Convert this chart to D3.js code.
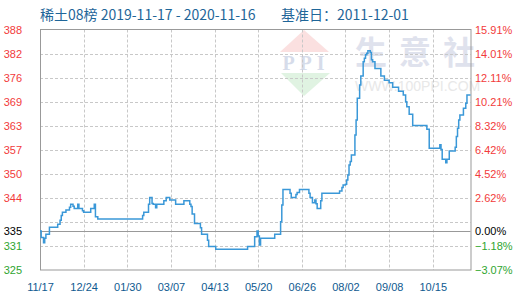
<!DOCTYPE html>
<meta charset="utf-8">
<script src="https://d3js.org/d3.v7.min.js"></script>
<style>
    body { margin: 0; background: #fff; }
    svg { display: block; }
</style>
<div id="chart"></div>
<script>
    // title texts
    var titleText = "稀土08榜 2019-11-17 - 2020-11-16";
    var baseText = "基准日：2011-12-01";
    var baseValue = 335;

    // x axis
    var startDate = "2019-11-17", endDate = "2020-11-16";
    var xTickDates = ["2019-11-17", "2019-12-24", "2020-01-30", "2020-03-07", "2020-04-13",
        "2020-05-20", "2020-06-26", "2020-08-02", "2020-09-08", "2020-10-15"];
    var xTickLabels = ["11/17", "12/24", "01/30", "03/07", "04/13", "05/20", "06/26", "08/02", "09/08", "10/15"];

    // y axis: percent vs base (right) and index value (left)
    var pctTicks = [-3.07, -1.18, 0.72, 2.62, 4.52, 6.42, 8.32, 10.21, 12.11, 14.01, 15.91];
    var valueLabels = [325, 331, 337, 344, 350, 357, 363, 369, 376, 382, 388];

    // series: day the index changed, and the value from that day on
    var dates = ["2019-11-17", "2019-11-18", "2019-11-20", "2019-11-21", "2019-11-22", "2019-11-25", "2019-12-02", "2019-12-04",
        "2019-12-05", "2019-12-06", "2019-12-09", "2019-12-12", "2019-12-13", "2019-12-15", "2019-12-16", "2019-12-19",
        "2019-12-20", "2019-12-23", "2019-12-24", "2019-12-30", "2020-01-02", "2020-01-03", "2020-01-05", "2020-02-12",
        "2020-02-13", "2020-02-17", "2020-02-18", "2020-02-20", "2020-02-21", "2020-02-23", "2020-02-24", "2020-03-01",
        "2020-03-03", "2020-03-06", "2020-03-11", "2020-03-18", "2020-03-23", "2020-03-24", "2020-03-25", "2020-03-27",
        "2020-04-01", "2020-04-02", "2020-04-07", "2020-04-08", "2020-04-14", "2020-05-11", "2020-05-17", "2020-05-19",
        "2020-05-20", "2020-05-21", "2020-05-22", "2020-06-03", "2020-06-08", "2020-06-09", "2020-06-10", "2020-06-16",
        "2020-06-17", "2020-06-21", "2020-06-22", "2020-06-24", "2020-07-02", "2020-07-03", "2020-07-05", "2020-07-07",
        "2020-07-08", "2020-07-09", "2020-07-12", "2020-07-13", "2020-07-28", "2020-07-30", "2020-07-31", "2020-08-02",
        "2020-08-03", "2020-08-04", "2020-08-05", "2020-08-06", "2020-08-07", "2020-08-10", "2020-08-11", "2020-08-12",
        "2020-08-14", "2020-08-15", "2020-08-17", "2020-08-18", "2020-08-19", "2020-08-20", "2020-08-21", "2020-08-23",
        "2020-08-24", "2020-08-25", "2020-08-27", "2020-09-01", "2020-09-04", "2020-09-08", "2020-09-11", "2020-09-16",
        "2020-09-20", "2020-09-22", "2020-09-23", "2020-09-25", "2020-09-28", "2020-10-10", "2020-10-12", "2020-10-21",
        "2020-10-22", "2020-10-23", "2020-10-26", "2020-10-27", "2020-10-29", "2020-11-03", "2020-11-04", "2020-11-05",
        "2020-11-06", "2020-11-07", "2020-11-10", "2020-11-12", "2020-11-13", "2020-11-16"];
    var values = [335.0, 333.3, 331.9, 333.1, 334.2, 336.0, 336.8, 337.9,
        339.1, 340.0, 340.6, 341.3, 342.1, 341.6, 341.0, 342.1,
        341.0, 340.4, 340.0, 341.0, 342.1, 338.8, 338.2, 339.1,
        340.0, 342.1, 343.9, 342.3, 342.1, 341.2, 342.1, 343.0,
        343.9, 343.2, 342.1, 343.0, 342.1, 341.5, 339.5, 337.0,
        335.9, 334.2, 332.6, 330.9, 330.2, 330.9, 333.5, 335.0,
        333.7, 331.3, 333.1, 334.2, 337.5, 341.9, 346.0, 345.0,
        343.9, 344.7, 345.2, 346.0, 345.0, 343.9, 342.5, 343.2,
        342.2, 341.0, 343.0, 345.0, 345.6, 346.5, 347.2, 347.4,
        348.5, 349.8, 352.5, 353.4, 355.1, 360.4, 364.4, 370.1,
        373.6, 376.0, 379.8, 380.7, 381.6, 382.0, 382.7, 382.2,
        380.3, 379.8, 378.0, 376.0, 374.9, 374.2, 373.0, 372.0,
        371.0, 369.2, 367.9, 365.9, 362.9, 361.9, 356.9, 357.8,
        356.6, 354.0, 353.1, 354.0, 356.2, 357.2, 360.0, 362.2,
        364.4, 365.7, 367.5, 368.8, 371.0, 371.0];

    // ---------------------------//
    //       SIZES AND SCALES     //
    // ---------------------------//
    var width = 520, height = 300;
    var plot = { left: 40, right: 470.5, top: 29.5, bottom: 270 };

    var svg = d3.select("#chart")
        .append("svg")
        .attr("width", width)
        .attr("height", height);

    var parse = d3.timeParse("%Y-%m-%d");

    var x = d3.scaleTime()
        .domain([parse(startDate), parse(endDate)])
        .range([plot.left, plot.right]);

    var yPct = d3.scaleLinear()
        .domain([pctTicks[0], pctTicks[pctTicks.length - 1]])
        .range([plot.bottom, plot.top]);

    var y = d3.scaleLinear()
        .domain(yPct.domain().map(function (p) { return baseValue * (1 + p / 100); }))
        .range([plot.bottom, plot.top]);

    // ---------------------------//
    //       WATERMARK            //
    // ---------------------------//
    var wm = svg.append("g");
    wm.append("path")
        .attr("d", "M280,52L304,30L329,52Z")
        .attr("fill", "#fbe0e0");
    wm.append("path")
        .attr("d", "M281,73L330,73L304,96Z")
        .attr("fill", "#e0f3e2");
    wm.append("text")
        .attr("x", 306).attr("y", 70)
        .attr("text-anchor", "middle")
        .style("font-family", "'Liberation Serif', serif")
        .style("font-weight", "bold")
        .style("font-size", "20px")
        .style("letter-spacing", "5px")
        .attr("fill", "#d6dcea")
        .text("PPI");
    // one glyph per text so the wide spacing does not run into the right labels
    wm.selectAll("wmchar")
        .data(["生", "意", "社"])
        .enter()
        .append("text")
        .attr("x", function (d, i) { return 371 + i * 44; })
        .attr("y", 64)
        .attr("text-anchor", "middle")
        .style("font-family", "'Noto Sans CJK SC', sans-serif")
        .style("font-weight", "bold")
        .style("font-size", "32px")
        .attr("fill", "#dfe2ed")
        .text(function (d) { return d; });
    wm.append("text")
        .attr("x", 355).attr("y", 91)
        .style("font-family", "'Liberation Sans', Arial, sans-serif")
        .style("font-size", "14px")
        .attr("fill", "#e8e8e8")
        .text("WWW.100PPI.COM");

    // ---------------------------//
    //       GRID                 //
    // ---------------------------//
    svg.append("g")
        .selectAll("line")
        .data(xTickDates.slice(1))
        .enter()
        .append("line")
        .attr("x1", function (d) { return Math.round(x(parse(d))) + 0.5; })
        .attr("x2", function (d) { return Math.round(x(parse(d))) + 0.5; })
        .attr("y1", plot.top)
        .attr("y2", plot.bottom)
        .attr("stroke", "#c8c8c8")
        .style("stroke-dasharray", "3,2");

    svg.append("g")
        .selectAll("line")
        .data(pctTicks.slice(1, -1))
        .enter()
        .append("line")
        .attr("x1", plot.left)
        .attr("x2", plot.right)
        .attr("y1", function (d) { return Math.round(yPct(d)) + 0.5; })
        .attr("y2", function (d) { return Math.round(yPct(d)) + 0.5; })
        .attr("stroke", "#c8c8c8")
        .style("stroke-dasharray", "3,2");

    // base line (0.00%)
    svg.append("line")
        .attr("x1", plot.left).attr("x2", plot.right)
        .attr("y1", Math.round(yPct(0)) + 0.5)
        .attr("y2", Math.round(yPct(0)) + 0.5)
        .attr("stroke", "#999");

    // frame
    svg.append("rect")
        .attr("x", plot.left + 0.5)
        .attr("y", plot.top)
        .attr("width", plot.right - plot.left)
        .attr("height", plot.bottom - plot.top)
        .attr("fill", "none")
        .attr("stroke", "#999");

    // ---------------------------//
    //       LINE                 //
    // ---------------------------//
    var series = dates.map(function (d, i) { return { date: parse(d), value: values[i] }; });

    svg.append("path")
        .datum(series)
        .attr("fill", "none")
        .attr("stroke", "#3a98d8")
        .attr("stroke-width", 1.5)
        .attr("d", d3.line()
            .curve(d3.curveStepAfter)
            .x(function (d) { return x(d.date); })
            .y(function (d) { return y(d.value); }));

    // ---------------------------//
    //       LABELS               //
    // ---------------------------//
    function labelColor(p) {
        if (p > 0) return "#f23b3b";
        if (p < 0) return "#2fa52f";
        return "#000";
    }

    // hide the tick next to the base line, add the base itself
    var shown = pctTicks.filter(function (p, i) { return i !== 2; }).concat([0]);
    var leftLabel = {};
    pctTicks.forEach(function (p, i) { leftLabel[p] = valueLabels[i]; });
    leftLabel[0] = baseValue;

    var leftAxis = svg.append("g")
        .attr("transform", "translate(22,0)")
        .call(d3.axisLeft(yPct).tickValues(shown).tickSize(0).tickPadding(0)
            .tickFormat(function (d) { return leftLabel[d]; }));

    var rightAxis = svg.append("g")
        .attr("transform", "translate(475,0)")
        .call(d3.axisRight(yPct).tickValues(shown).tickSize(0).tickPadding(0)
            .tickFormat(function (d) { return d3.format(".2f")(d) + "%"; }));

    [leftAxis, rightAxis].forEach(function (g) {
        g.select(".domain").remove();
        g.selectAll("text")
            .style("font-family", "'Liberation Sans', Arial, sans-serif")
            .style("font-size", "11px")
            .attr("fill", function (d) { return labelColor(d); });
    });

    var xAxis = svg.append("g")
        .attr("transform", "translate(0,283)")
        .call(d3.axisBottom(x).tickValues(xTickDates.map(parse)).tickSize(0).tickPadding(0)
            .tickFormat(function (d, i) { return xTickLabels[i]; }));
    xAxis.select(".domain").remove();
    xAxis.selectAll("text")
        .style("font-family", "'Liberation Sans', Arial, sans-serif")
        .style("font-size", "11px")
        .attr("fill", "#0f5a90");

    // title
    svg.append("text")
        .attr("x", 40).attr("y", 20)
        .style("font-family", "'Noto Sans CJK SC', sans-serif")
        .style("font-size", "14px")
        .attr("fill", "#1f6699")
        .text(titleText);
    svg.append("text")
        .attr("x", 281).attr("y", 20)
        .style("font-family", "'Noto Sans CJK SC', sans-serif")
        .style("font-size", "14px")
        .attr("fill", "#1f6699")
        .text(baseText);
</script>
